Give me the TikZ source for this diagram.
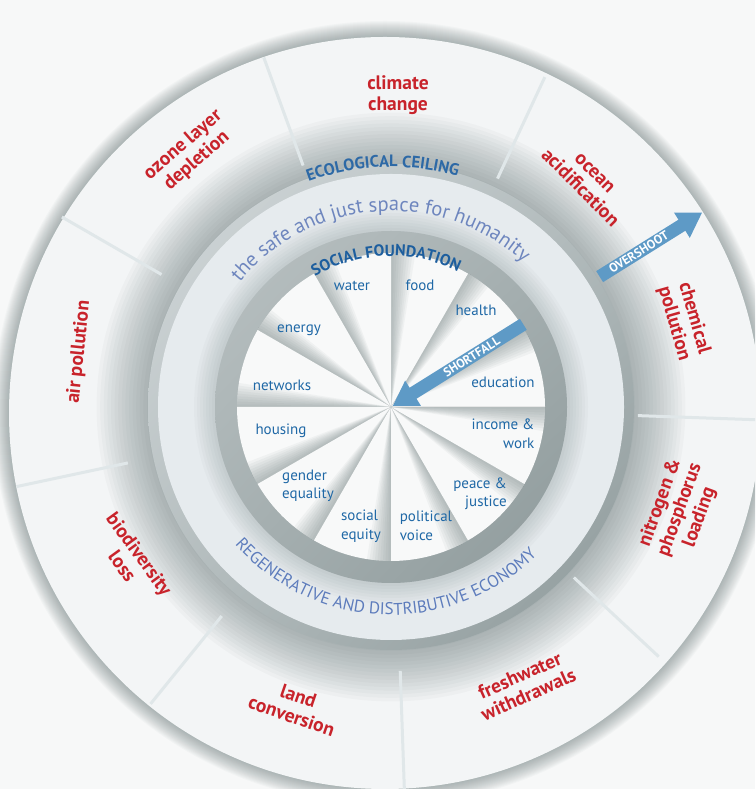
\documentclass[tikz,border=0pt]{standalone}
\usepackage{fontspec}
\setmainfont{PT Sans}
\usetikzlibrary{decorations.text,arrows.meta,shadings}
\definecolor{bgcol}{HTML}{F7F8F8}
\definecolor{ringwhite}{HTML}{F3F5F6}
\definecolor{shadowcol}{HTML}{4F6263}
\definecolor{divcol}{HTML}{E0E7E9}
\definecolor{facecol}{HTML}{E6EBEE}
\definecolor{wallA}{HTML}{B9C1C2}
\definecolor{wallM}{HTML}{A5AFB0}
\definecolor{wallB}{HTML}{8E9A9B}
\definecolor{rimA}{HTML}{D3D9DB}
\definecolor{rimM}{HTML}{B3BCBD}
\definecolor{rimB}{HTML}{8C9899}
\definecolor{slicecol}{HTML}{F8F9F9}
\definecolor{redlab}{HTML}{C8232B}
\definecolor{pieblue}{HTML}{1F68A6}
\definecolor{ecoblue}{HTML}{2D69A6}
\definecolor{socblue}{HTML}{1D5E9E}
\definecolor{safeblue}{HTML}{6E86BE}
\definecolor{regblue}{HTML}{5D7CBC}
\definecolor{arrowcol}{HTML}{5E9AC6}
\newcommand\ecofmt{\bfseries\fontsize{16.5}{16.5}\selectfont\color{ecoblue}}
\newcommand\safefmt{\fontsize{20.5}{20.5}\selectfont\color{safeblue}}
\newcommand\socfmt{\bfseries\fontsize{16}{16}\selectfont\color{socblue}}
\newcommand\regfmt{\fontsize{17}{17}\selectfont\color{regblue}}
\begin{document}
\begin{tikzpicture}[x=1pt,y=1pt,
  redlabel/.style={text=redlab, font=\bfseries\fontsize{19.5}{21}\selectfont, align=center, inner sep=0pt},
  pielabel/.style={text=pieblue, font=\fontsize{15}{18.5}\selectfont, inner sep=0pt},
  divider/.style={draw=divcol, line width=3pt},
  bigarrow/.style={draw=arrowcol, line width=13pt, -{Triangle[width=28pt,length=24pt]}},
  arrowtext/.style={text=white, font=\bfseries\fontsize{12.5}{12.5}\selectfont, inner sep=0pt}
]
\useasboundingbox (0,0) rectangle (755,789);
\clip (0,0) rectangle (755,789);
\fill[bgcol] (0,0) rectangle (755,789);
\coordinate (C) at (391,382);
\coordinate (O) at (385,376);
% drop shadow of outer disc (towards lower right)
\foreach \k in {1,...,16}
  \fill[shadowcol, opacity=0.03, shift={({\k*1.4},{-\k*1.4})}] (O) circle[radius={376+\k*1.0}];
\fill[ringwhite] (O) circle[radius=376];
% shadow cast on outer ring by raised disc
\foreach \k in {0,...,14}
  \fill[shadowcol, opacity=0.035, shift={({\k*0.9},{-\k*0.9})}] (C) circle[radius={244+\k*3.6}];
% dividers
\foreach \ang/\ri/\ro in {110/257/372, 150/265/380, 192/269/383, 231/269/382, 272/264/392, 317/250/366, 358/247/372, 65/252/364}
  \draw[divider] ([shift={(\ang:\ri)}]C) -- ([shift={(\ang:\ro)}]C);
% planetary boundary labels
\node[redlabel] (climate) at (398,694) {climate\\change};
\node[redlabel, rotate=41] (ozone) at (190,636) {ozone layer\\depletion};
\node[redlabel, rotate=-45] (ocean) at (587,608) {ocean\\acidification};
\node[redlabel, rotate=-74] (chemical) at (684,468) {chemical\\pollution};
\node[redlabel, rotate=70] (nitrogen) at (680,279) {nitrogen \&\\phosphorus\\loading};
\node[redlabel, rotate=24] (freshwater) at (524,104) {freshwater\\withdrawals};
\node[redlabel, rotate=-19] (land) at (295,83) {land\\conversion};
\node[redlabel, rotate=-54] (biodiversity) at (131,229) {biodiversity\\loss};
\node[redlabel, rotate=84] (air) at (79,437) {air pollution};
% raised disc rim and face
\shade[upper left=rimA, upper right=rimM, lower left=rimM, lower right=rimB, shift={(3,-5)}] (C) circle[radius=243];
\fill[facecol] (C) circle[radius=233];
\foreach \k in {0,...,7}
  \fill[shadowcol, opacity=0.03] (C) circle[radius={176+\k*3}];
% wall around the pie
\shade[upper left=wallA, upper right=wallM, lower left=wallM, lower right=wallB] (C) circle[radius=176];
% pie slices
\foreach \a in {0,30,...,330} {
  \fill[slicecol] (C) -- ([shift={(\a:154)}]C) arc[start angle=\a, end angle={\a+30}, radius=154] -- cycle;
  \foreach \k in {1,...,9}
    \fill[shadowcol, opacity=0.05] (C) -- ([shift={({\a+30-\k}:154)}]C) arc[start angle={\a+30-\k}, end angle={\a+30}, radius=154] -- cycle;
}
% arrows
\coordinate (sfTail) at ([shift={(32:156)}]C);
\coordinate (sfTip) at ([shift={(32:2)}]C);
\draw[bigarrow] (sfTail) -- (sfTip);
\coordinate (ovTail) at ([shift={(32:246)}]C);
\coordinate (ovTip) at ([shift={(32:367)}]C);
\draw[bigarrow] (ovTail) -- (ovTip);
\node[arrowtext, rotate=32] (shortfall) at ([shift={(32:95)}]C) {SHORTFALL};
\node[arrowtext, rotate=32] (overshoot) at ([shift={(32:292)}]C) {OVERSHOOT};
% curved texts
\path[decorate, decoration={text along path, text={|\ecofmt|ECOLOGICAL CEILING}, text align=center}]
  ([shift={(152:240)}]C) arc[start angle=152, end angle=32, radius=240];
\path[decorate, decoration={text along path, text={|\safefmt|the safe and just space for humanity}, text align=center}]
  ([shift={(165:196)}]C) arc[start angle=165, end angle=23, radius=196];
\path[decorate, decoration={text along path, text={|\socfmt|SOCIAL FOUNDATION}, text align=center}]
  ([shift={(152:151)}]C) arc[start angle=152, end angle=32, radius=151];
\path[decorate, decoration={text along path, text={|\regfmt|REGENERATIVE AND DISTRIBUTIVE ECONOMY}, text align=center}]
  ([shift={(192:208)}]C) arc[start angle=192, end angle=344, radius=208];
% social foundation labels
\node[pielabel] (water) at (352,503) {water};
\node[pielabel] (food) at (420,504) {food};
\node[pielabel] (health) at (476,479) {health};
\node[pielabel] (education) at (503,407) {education};
\node[pielabel, align=right] (income) at (503,355) {income \&\\work};
\node[pielabel, align=right] (peace) at (480,295) {peace \&\\justice};
\node[pielabel, align=left] (political) at (426,263) {political\\voice};
\node[pielabel, align=left] (social) at (361,263) {social\\equity};
\node[pielabel, align=left] (gender) at (308,303) {gender\\equality};
\node[pielabel] (housing) at (281,358) {housing};
\node[pielabel] (networks) at (282,404) {networks};
\node[pielabel] (energy) at (299,459) {energy};
\end{tikzpicture}
\end{document}
